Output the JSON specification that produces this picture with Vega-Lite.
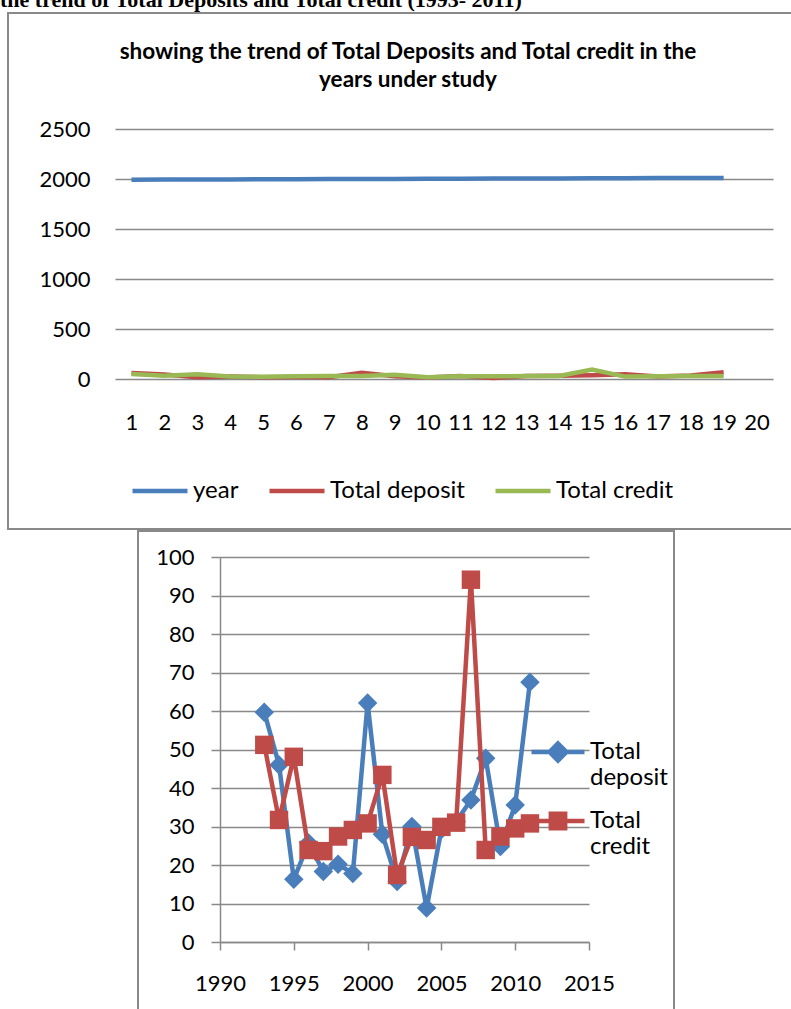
{
  "$schema": "https://vega.github.io/schema/vega-lite/v6.json",
  "autosize": {"type": "pad"},
  "padding": {"left": 0, "top": -11, "right": -12, "bottom": -6},
  "background": "white",
  "title": {
    "text": "the trend of Total Deposits and Total credit (1993- 2011)",
    "anchor": "start",
    "font": "Liberation Serif",
    "fontWeight": "bold",
    "fontSize": 22,
    "color": "black",
    "baseline": "alphabetic",
    "offset": -17,
    "dx": -7
  },
  "data": {
    "values": [
      {"idx": 1, "year": 1993, "Total deposit": 59.7, "Total credit": 51.2},
      {"idx": 2, "year": 1994, "Total deposit": 46.0, "Total credit": 31.7},
      {"idx": 3, "year": 1995, "Total deposit": 16.3, "Total credit": 48.1},
      {"idx": 4, "year": 1996, "Total deposit": 25.7, "Total credit": 23.9},
      {"idx": 5, "year": 1997, "Total deposit": 18.3, "Total credit": 23.6},
      {"idx": 6, "year": 1998, "Total deposit": 20.2, "Total credit": 27.4},
      {"idx": 7, "year": 1999, "Total deposit": 17.8, "Total credit": 29.1},
      {"idx": 8, "year": 2000, "Total deposit": 62.1, "Total credit": 30.8},
      {"idx": 9, "year": 2001, "Total deposit": 28.0, "Total credit": 43.4},
      {"idx": 10, "year": 2002, "Total deposit": 15.7, "Total credit": 17.4},
      {"idx": 11, "year": 2003, "Total deposit": 30.0, "Total credit": 27.3},
      {"idx": 12, "year": 2004, "Total deposit": 8.8, "Total credit": 26.5},
      {"idx": 13, "year": 2005, "Total deposit": 29.2, "Total credit": 29.9},
      {"idx": 14, "year": 2006, "Total deposit": 31.3, "Total credit": 31.0},
      {"idx": 15, "year": 2007, "Total deposit": 36.9, "Total credit": 94.1},
      {"idx": 16, "year": 2008, "Total deposit": 47.7, "Total credit": 23.9},
      {"idx": 17, "year": 2009, "Total deposit": 24.8, "Total credit": 27.4},
      {"idx": 18, "year": 2010, "Total deposit": 35.6, "Total credit": 29.5},
      {"idx": 19, "year": 2011, "Total deposit": 67.5, "Total credit": 30.8}
    ]
  },
  "spacing": 0,
  "center": true,
  "resolve": {
    "scale": {"color": "independent", "shape": "independent"},
    "legend": {"color": "independent", "shape": "independent"}
  },
  "vconcat": [
    {
      "width": 796,
      "height": 516,
      "title": {
        "text": ["showing the trend of Total Deposits and Total credit in the", "years under study"],
        "anchor": "middle",
        "font": "Lato",
        "fontWeight": "bold",
        "fontSize": 22.5,
        "lineHeight": 28,
        "color": "black",
        "offset": -78,
        "dx": 2
      },
      "transform": [
        {"fold": ["year", "Total deposit", "Total credit"], "as": ["series", "value"]}
      ],
      "mark": {"type": "line", "strokeWidth": 4.5},
      "encoding": {
        "x": {
          "field": "idx",
          "type": "ordinal",
          "scale": {"type": "point", "domain": [1,2,3,4,5,6,7,8,9,10,11,12,13,14,15,16,17,18,19,20], "range": [107, 765], "padding": 0.5},
          "axis": {
            "title": null,
            "offset": -150,
            "domain": false,
            "ticks": false,
            "grid": false,
            "labelAngle": 0,
            "labelPadding": 33,
            "labelFont": "Lato",
            "labelFontSize": 22,
            "labelColor": "black"
          }
        },
        "y": {
          "field": "value",
          "type": "quantitative",
          "scale": {"domain": [0, 2500], "range": [366, 116], "nice": false, "zero": false},
          "axis": {
            "title": null,
            "values": [0, 500, 1000, 1500, 2000, 2500],
            "format": "d",
            "offset": -107,
            "domain": false,
            "ticks": false,
            "grid": true,
            "gridColor": "#898989",
            "gridWidth": 1.5,
            "labelPadding": 25,
            "labelFont": "Lato",
            "labelFontSize": 22,
            "labelColor": "black"
          }
        },
        "color": {
          "field": "series",
          "type": "nominal",
          "scale": {"domain": ["year", "Total deposit", "Total credit"], "range": ["#4A7EBB", "#BE4B48", "#98B954"]},
          "legend": {
            "orient": "none",
            "legendX": 122,
            "legendY": 448,
            "direction": "horizontal",
            "title": null,
            "symbolType": "stroke",
            "symbolSize": 3025,
            "symbolStrokeWidth": 4.5,
            "labelFont": "Lato",
            "labelFontSize": 24,
            "labelColor": "black",
            "columnPadding": 21,
            "labelOffset": 3,
            "padding": 0
          }
        }
      }
    },
    {
      "width": 536,
      "height": 485,
      "layer": [
        {
          "mark": {"type": "line", "color": "#4A7EBB", "strokeWidth": 4.5},
          "encoding": {
            "x": {
              "field": "year",
              "type": "quantitative",
              "scale": {"domain": [1990, 2015], "range": [82, 451], "nice": false, "zero": false},
              "axis": {
                "title": null,
                "values": [1990, 1995, 2000, 2005, 2010, 2015],
                "format": "d",
                "offset": -74,
                "grid": false,
                "domainColor": "#898989",
                "domainWidth": 1.5,
                "tickColor": "#898989",
                "tickWidth": 1.5,
                "tickSize": 8,
                "labelPadding": 23,
                "labelFlush": false,
                "labelOverlap": false,
                "labelFont": "Lato",
                "labelFontSize": 22,
                "labelColor": "black"
              }
            },
            "y": {
              "field": "Total deposit",
              "type": "quantitative",
              "scale": {"domain": [0, 100], "range": [411, 26], "nice": false, "zero": false},
              "axis": {
                "title": null,
                "values": [0, 10, 20, 30, 40, 50, 60, 70, 80, 90, 100],
                "offset": -82,
                "grid": true,
                "gridColor": "#898989",
                "gridWidth": 1.5,
                "domainColor": "#898989",
                "domainWidth": 1.5,
                "tickColor": "#898989",
                "tickWidth": 1.5,
                "tickSize": 9,
                "labelPadding": 17,
                "labelFont": "Lato",
                "labelFontSize": 22,
                "labelColor": "black"
              }
            }
          }
        },
        {
          "mark": {"type": "point", "shape": "diamond", "filled": true, "color": "#4A7EBB", "size": 380, "opacity": 1},
          "encoding": {
            "x": {"field": "year", "type": "quantitative"},
            "y": {"field": "Total deposit", "type": "quantitative"}
          }
        },
        {
          "mark": {"type": "line", "color": "#BE4B48", "strokeWidth": 4.5},
          "encoding": {
            "x": {"field": "year", "type": "quantitative"},
            "y": {"field": "Total credit", "type": "quantitative"}
          }
        },
        {
          "mark": {"type": "point", "shape": "square", "filled": true, "color": "#BE4B48", "size": 340, "opacity": 1},
          "encoding": {
            "x": {"field": "year", "type": "quantitative"},
            "y": {"field": "Total credit", "type": "quantitative"}
          }
        },
        {
          "data": {"values": []},
          "mark": {"type": "point", "filled": false, "strokeWidth": 4.5, "opacity": 1},
          "encoding": {
            "color": {
              "field": "series",
              "type": "nominal",
              "scale": {"domain": ["Total deposit", "Total credit"], "range": ["#4A7EBB", "#BE4B48"]},
              "legend": {
                "orient": "none",
                "legendX": 391,
                "legendY": 192,
                "direction": "vertical",
                "title": null,
                "symbolSize": 2809,
                "symbolStrokeWidth": 4.5,
                "labelExpr": "split(datum.label, ' ')",
                "labelFont": "Lato",
                "labelFontSize": 24,
                "labelColor": "black",
                "labelBaseline": "middle",
                "labelOffset": 3,
                "rowPadding": 2,
                "padding": 0
              }
            },
            "shape": {
              "field": "series",
              "type": "nominal",
              "scale": {
                "domain": ["Total deposit", "Total credit"],
                "range": [
                  "M-1,0H1M0,-0.32L0.32,0L0,0.32L-0.32,0ZM0,-0.16L0.16,0L0,0.16L-0.16,0Z",
                  "M-1,0H1M-0.27,-0.27H0.27V0.27H-0.27ZM-0.12,-0.12H0.12V0.12H-0.12Z"
                ]
              },
              "legend": {
                "orient": "none",
                "legendX": 391,
                "legendY": 192,
                "direction": "vertical",
                "title": null,
                "symbolSize": 2809,
                "symbolStrokeWidth": 4.5,
                "labelExpr": "split(datum.label, ' ')",
                "labelFont": "Lato",
                "labelFontSize": 24,
                "labelColor": "black",
                "labelBaseline": "middle",
                "labelOffset": 3,
                "rowPadding": 2,
                "padding": 0
              }
            }
          }
        }
      ]
    }
  ],
  "config": {
    "view": {"stroke": "#898989", "strokeWidth": 2},
    "legend": {"symbolStrokeWidth": 4.5}
  }
}
